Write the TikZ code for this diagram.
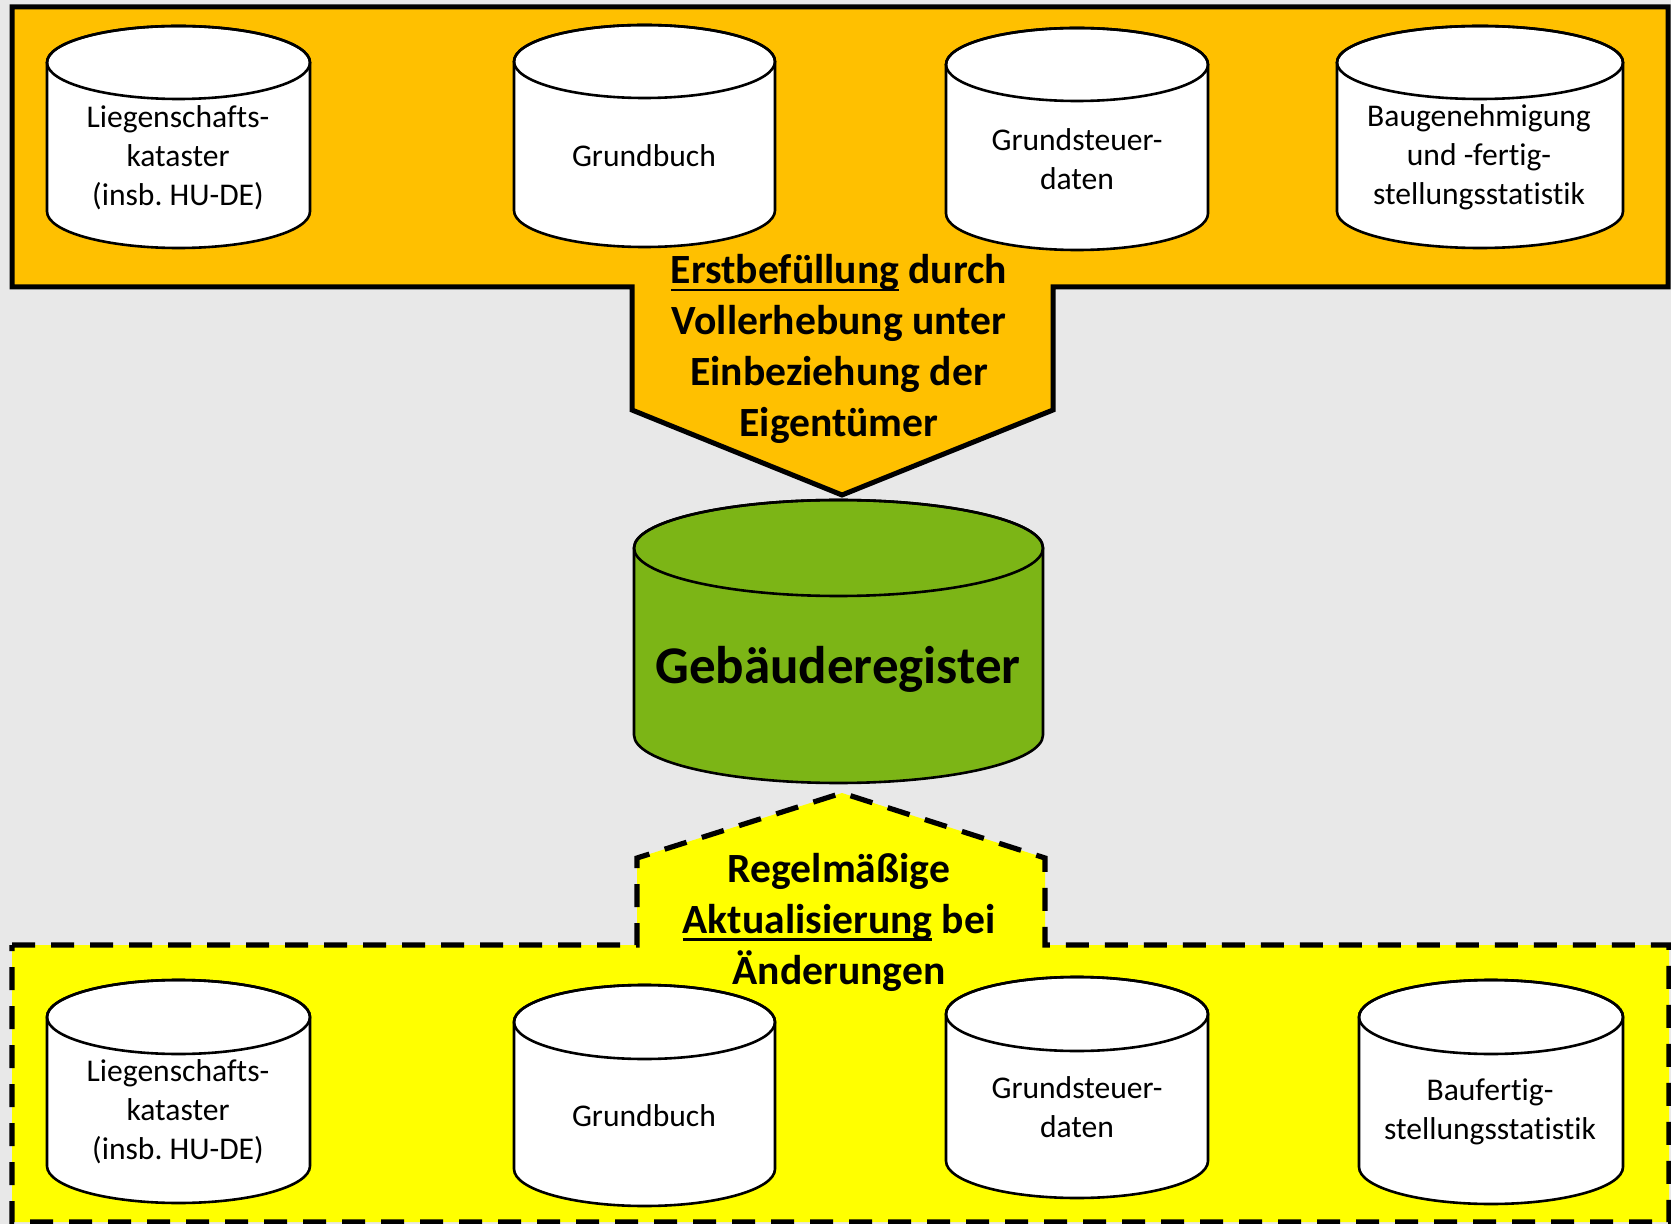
\documentclass[tikz,border=0pt]{standalone}
\usepackage{fontspec}
\setmainfont{Carlito}[Ligatures={NoCommon}]
\frenchspacing
\definecolor{bggrey}{RGB}{232,232,232}
\definecolor{orangefill}{RGB}{255,192,0}
\definecolor{yellowfill}{RGB}{255,255,0}
\definecolor{greenfill}{RGB}{124,181,22}
\newcommand\myul[1]{\setbox0\hbox{#1}\rlap{\rule[-0.19em]{\wd0}{0.065em}}\box0\relax}
% #1 x left, #2 y top, #3 x right, #4 y bottom (pixels), #5 ry, #6 fill
\newcommand\dbcyl[6]{%
  \pgfmathsetmacro\cylcx{(#1+#3)/2}%
  \pgfmathsetmacro\cylrx{(#3-#1)/2}%
  \pgfmathsetmacro\cylyt{-(#2)-(#5)}%
  \pgfmathsetmacro\cylyb{-(#4)+(#5)}%
  \filldraw[cylline, fill=#6] (#1,\cylyt) -- (#1,\cylyb)
    arc[start angle=180, end angle=360, x radius=\cylrx, y radius=#5]
    -- (#3,\cylyt)
    arc[start angle=0, end angle=180, x radius=\cylrx, y radius=#5] -- cycle;
  \draw[cylline] (\cylcx,\cylyt) ellipse[x radius=\cylrx, y radius=#5];
}
\tikzset{
  cylline/.style={line width=1.3pt, draw=black},
  cyltext/.style={align=center, font=\fontsize{15.8}{19.5}\selectfont, inner sep=0pt},
  flowtext/.style={align=center, font=\bfseries\fontsize{20.8}{25.5}\selectfont, inner sep=0pt},
}
\begin{document}
\begin{tikzpicture}[x=0.5pt, y=0.5pt]
\useasboundingbox (0,0) rectangle (1671,-1224);
\fill[bggrey] (0,0) rectangle (1671,-1224);

% top orange arrow shape
\filldraw[fill=orangefill, draw=black, line width=2.5pt, line join=miter]
  (12,-7) -- (1668,-7) -- (1668,-287) -- (1053,-287) -- (1053,-410) -- (842,-495)
  -- (632,-410) -- (632,-287) -- (12,-287) -- cycle;

% top cylinders
\dbcyl{47}{26}{310}{248}{36.5}{white}
\dbcyl{514}{25}{775}{247}{36.5}{white}
\dbcyl{946}{28}{1208}{250}{36.5}{white}
\dbcyl{1337}{26}{1623}{248}{36.5}{white}
\node[cyltext] (t1) at (178,-158) {Liegenschafts-\\kataster\\(insb. HU-DE)};
\node[cyltext] (t2) at (644,-156) {Grundbuch};
\node[cyltext] (t3) at (1077,-159) {Grundsteuer-\\daten};
\node[cyltext] (t4) at (1479,-157) {Baugenehmigung\\und -fertig-\\stellungsstatistik};

\node[flowtext] (erst) at (839,-349) {\myul{Erstbefüllung} durch\\Vollerhebung unter\\Einbeziehung der\\Eigentümer};

% central register
\dbcyl{634}{500}{1043}{783}{48}{greenfill}
\node[font=\bfseries\fontsize{26.5}{32}\selectfont, anchor=base, inner sep=0pt] (reg) at (838,-683) {Gebäuderegister};

% bottom yellow dashed shape
\filldraw[fill=yellowfill, draw=black, line width=2.6pt, dash pattern=on 11.5pt off 8pt, line join=miter]
  (12,-945) -- (637,-945) -- (637,-858) -- (842,-793) -- (1045,-858) -- (1045,-945)
  -- (1669,-945) -- (1669,-1222) -- (12,-1222) -- cycle;

% bottom cylinders
\dbcyl{47}{980}{310}{1203}{37}{white}
\dbcyl{514}{985}{775}{1206}{37}{white}
\dbcyl{946}{977}{1208}{1198}{37}{white}
\dbcyl{1359}{980}{1623}{1204}{37}{white}
\node[cyltext] (b1) at (178,-1112) {Liegenschafts-\\kataster\\(insb. HU-DE)};
\node[cyltext] (b2) at (644,-1116) {Grundbuch};
\node[cyltext] (b3) at (1077,-1107) {Grundsteuer-\\daten};
\node[cyltext] (b4) at (1490,-1112) {Baufertig-\\stellungsstatistik};

\node[flowtext] (regel) at (839,-922) {Regelmäßige\\\myul{Aktualisierung} bei\\Änderungen};
\end{tikzpicture}
\end{document}
